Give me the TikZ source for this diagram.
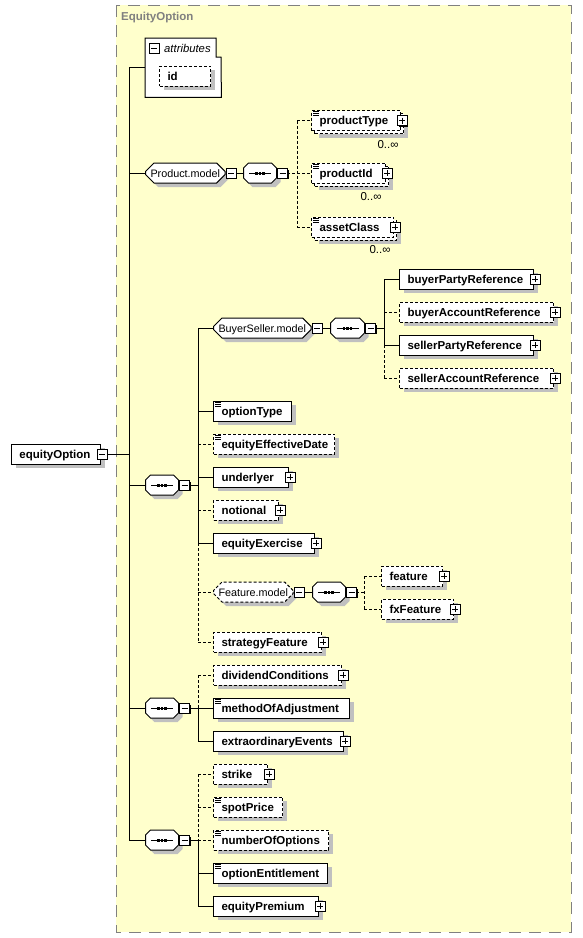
\documentclass[tikz,border=0pt]{standalone}
\usepackage{fontspec}
\setmainfont{Liberation Sans}
\usetikzlibrary{shapes.misc,shadows,calc}
\definecolor{bgyellow}{HTML}{FFFFCC}
\definecolor{framegray}{HTML}{808080}
\definecolor{shgray}{HTML}{C0C0C0}
\pgfdeclarelayer{bg}\pgfdeclarelayer{conn}\pgfsetlayers{bg,conn,main}
\tikzset{
 shd/.style={general shadow={fill=shgray,draw=none,shadow xshift=4pt,shadow yshift=-4pt}},
 multi/.style={general shadow={fill=shgray,draw=none,shadow xshift=7pt,shadow yshift=-7pt},
   general shadow={fill=white,draw=black,line width=1pt,dash pattern=on 3pt off 2pt,shadow xshift=3pt,shadow yshift=-3pt}},
 elembox/.style={rectangle,draw=black,fill=white,line width=1pt,minimum height=20pt,inner xsep=8pt,inner ysep=0pt,
   text height=10pt,text depth=2pt,font=\fontsize{11.5}{13}\selectfont\bfseries},
 opt/.style={dash pattern=on 3pt off 2pt},
 grp/.style={chamfered rectangle,chamfered rectangle xsep=5pt,draw=black,fill=white,line width=1pt,minimum height=20pt,
   inner sep=0pt,text height=10pt,text depth=2pt,font=\fontsize{10.8}{12}\selectfont},
 conn/.style={line width=1pt},
 optc/.style={line width=1pt,dash pattern=on 3pt off 2pt},
 card/.style={font=\fontsize{11.5}{12}\selectfont,inner sep=0pt},
 pics/btnminus/.style={code={\fill[black] (-3.5,-3.5) rectangle (6,6);
   \filldraw[fill=white,draw=black,line width=1pt] (-5,-5) rectangle (5,5);
   \draw[line width=1pt] (-3,0) -- (3,0);}},
 pics/btnplus/.style={code={\fill[black] (-3.5,-3.5) rectangle (6,6);
   \filldraw[fill=white,draw=black,line width=1pt] (-5,-5) rectangle (5,5);
   \draw[line width=1pt] (-3,0) -- (3,0) (0,-3) -- (0,3);}},
 pics/seqsym/.style={code={\draw[line width=1pt] (-11,0) -- (11,0);
   \foreach \d in {-3.6,0,3.6} \fill (\d-1.3,-1.5) rectangle (\d+1.3,1.5);}},
 pics/simpicon/.style={code={\draw[line width=.8pt] (2,1.5) -- (8,1.5) (2,3.5) -- (8,3.5) (2,5.5) -- (8,5.5);}},
}
\newcommand\xel[6]{\pgfmathsetmacro\xw{#4-#2}\pgfmathsetmacro\xtw{#4-#2-16}%
  \node[elembox,#5,minimum width=\xw pt,anchor=west] (#1) at (#2,#3) {\makebox[\xtw pt][l]{#6}};}
\begin{document}
\begin{tikzpicture}[x=1pt,y=-1pt]
\useasboundingbox (0,0) rectangle (582,938);
\begin{pgfonlayer}{bg}
\fill[white] (0,0) rectangle (582,938);
\draw[framegray,fill=bgyellow,line width=1pt,dash pattern=on 12pt off 8pt] (116,5) rectangle (571,932);
\end{pgfonlayer}
\node[anchor=west,inner sep=0pt,text=framegray,font=\fontsize{11.5}{12}\selectfont\bfseries] (hdr) at (121,18) {EquityOption};
% attributes
\node[minimum width=76pt,minimum height=59pt,anchor=north west,inner sep=0pt] (attr) at (145,38) {};
\filldraw[fill=white,draw=black,line width=1pt] (attr.north west) -- ++(71,0) -- ++(0,19) -- ++(5,0) -- (attr.south east) -- (attr.south west) -- cycle;
\node[anchor=west,inner sep=0pt,font=\fontsize{11.3}{12}\selectfont\itshape] (attrlbl) at (164,48) {attributes};
\xel{idn}{159}{76}{210}{opt,shd}{id}
% root
\xel{eo}{11}{454}{100}{shd}{equityOption}
% groups and sequences
\node[grp,shd,minimum width=76pt,anchor=west] (pm) at (145,173) {Product.model};
\node[grp,shd,minimum width=33pt,anchor=west] (sP) at (243,173) {};
\node[grp,shd,minimum width=97pt,anchor=west] (bsm) at (213,328) {BuyerSeller.model};
\node[grp,shd,minimum width=34pt,anchor=west] (sB) at (330,328) {};
\node[grp,shd,minimum width=33pt,anchor=west] (s1) at (145,485) {};
\node[grp,opt,shd,minimum width=77pt,anchor=west] (fm) at (213,592) {Feature.model};
\node[grp,shd,minimum width=33pt,anchor=west] (sF) at (312,592) {};
\node[grp,shd,minimum width=33pt,anchor=west] (s2) at (145,708) {};
\node[grp,shd,minimum width=33pt,anchor=west] (s3) at (145,840) {};
% elements
\xel{pt}{311}{120.5}{400}{opt,multi}{productType}
\xel{pid}{311}{173}{385}{opt,multi}{productId}
\xel{ac}{311}{227}{393}{opt,multi}{assetClass}
\xel{bpr}{399}{279}{533}{shd}{buyerPartyReference}
\xel{bar}{399}{312}{553}{opt,shd}{buyerAccountReference}
\xel{spr}{399}{345}{533}{shd}{sellerPartyReference}
\xel{sar}{399}{378}{553}{opt,shd}{sellerAccountReference}
\xel{ot}{213}{411}{291}{shd}{optionType}
\xel{eed}{213}{444}{334}{opt,shd}{equityEffectiveDate}
\xel{und}{213}{477}{288}{shd}{underlyer}
\xel{notl}{213}{510}{278}{opt,shd}{notional}
\xel{eex}{213}{543}{314}{shd}{equityExercise}
\xel{feat}{381}{576}{442}{opt,shd}{feature}
\xel{fxf}{381}{609}{453}{opt,shd}{fxFeature}
\xel{sf}{213}{642}{321}{opt,shd}{strategyFeature}
\xel{dc}{213}{675}{341}{opt,shd}{dividendConditions}
\xel{moa}{213}{708}{349}{shd}{methodOfAdjustment}
\xel{eev}{213}{741}{343}{shd}{extraordinaryEvents}
\xel{stk}{213}{774}{267}{opt,shd}{strike}
\xel{spp}{213}{807}{282}{opt,shd}{spotPrice}
\xel{noo}{213}{840}{328}{opt,shd}{numberOfOptions}
\xel{oen}{213}{873}{327}{shd}{optionEntitlement}
\xel{epr}{213}{906}{318}{shd}{equityPremium}
% cardinalities
\node[card] (cpt) at ($(pt.east)+(-13,24)$) {0..∞};
\node[card] (cpid) at ($(pid.east)+(-15,24)$) {0..∞};
\node[card] (cac) at ($(ac.east)+(-14,23)$) {0..∞};
% simple type icons
\foreach \n in {pt,pid,ac,ot,eed,moa,spp,noo,oen} \pic at (\n.north west) {simpicon};
% sequence symbols
\foreach \n in {sP,sB,s1,sF,s2,s3} \pic at (\n.center) {seqsym};
% buttons
\pic at (154,48) {btnminus};
\pic at ($(eo.east)+(1,0)$) {btnminus};
\foreach \n in {pm,sP,bsm,sB,s1,fm,sF,s2,s3} \pic at ($(\n.east)+(5.5,0)$) {btnminus};
\foreach \n in {pt,pid,ac,bpr,bar,spr,sar,und,notl,eex,feat,fxf,sf,dc,eev,stk,epr} \pic at ($(\n.east)+(1,0)$) {btnplus};
% connectors
\begin{pgfonlayer}{conn}
\coordinate (bM) at (129,0);
\coordinate (bP) at (297,0);
\coordinate (bB) at (384,0);
\coordinate (bS) at (198,0);
\coordinate (bF) at (364,0);
\draw[conn] (eo.east) -- (eo.east -| bM);
\draw[conn] (attr.west -| bM) -- (s3.west -| bM);
\foreach \n in {attr,pm,s1,s2,s3} \draw[conn] (\n.west -| bM) -- (\n.west);
% product model
\draw[conn] (pm.east) -- (sP.west);
\draw[optc] (sP.east) -- (sP.east -| bP);
\draw[optc] (pt.west -| bP) -- (ac.west -| bP);
\foreach \n in {pt,pid,ac} \draw[optc] (\n.west -| bP) -- (\n.west);
% sequence 1
\draw[conn] (s1.east) -- (s1.east -| bS);
\draw[conn] (bsm.west -| bS) -- (eex.west -| bS);
\draw[optc] (eex.west -| bS) -- (sf.west -| bS);
\foreach \n in {bsm,ot,und,eex} \draw[conn] (\n.west -| bS) -- (\n.west);
\foreach \n in {eed,notl,fm,sf} \draw[optc] (\n.west -| bS) -- (\n.west);
% buyer seller
\draw[conn] (bsm.east) -- (sB.west);
\draw[conn] (sB.east) -- (sB.east -| bB);
\draw[conn] (bpr.west -| bB) -- (spr.west -| bB);
\draw[optc] (spr.west -| bB) -- (sar.west -| bB);
\foreach \n in {bpr,spr} \draw[conn] (\n.west -| bB) -- (\n.west);
\foreach \n in {bar,sar} \draw[optc] (\n.west -| bB) -- (\n.west);
% feature model
\draw[conn] (fm.east) -- (sF.west);
\draw[optc] (sF.east) -- (sF.east -| bF);
\draw[optc] (feat.west -| bF) -- (fxf.west -| bF);
\foreach \n in {feat,fxf} \draw[optc] (\n.west -| bF) -- (\n.west);
% sequence 2
\draw[conn] (s2.east) -- (s2.east -| bS);
\draw[optc] (dc.west -| bS) -- (moa.west -| bS);
\draw[conn] (moa.west -| bS) -- (eev.west -| bS);
\draw[optc] (dc.west -| bS) -- (dc.west);
\foreach \n in {moa,eev} \draw[conn] (\n.west -| bS) -- (\n.west);
% sequence 3
\draw[conn] (s3.east) -- (s3.east -| bS);
\draw[optc] (stk.west -| bS) -- (noo.west -| bS);
\draw[conn] (noo.west -| bS) -- (epr.west -| bS);
\foreach \n in {stk,spp,noo} \draw[optc] (\n.west -| bS) -- (\n.west);
\foreach \n in {oen,epr} \draw[conn] (\n.west -| bS) -- (\n.west);
\end{pgfonlayer}
\end{tikzpicture}
\end{document}
